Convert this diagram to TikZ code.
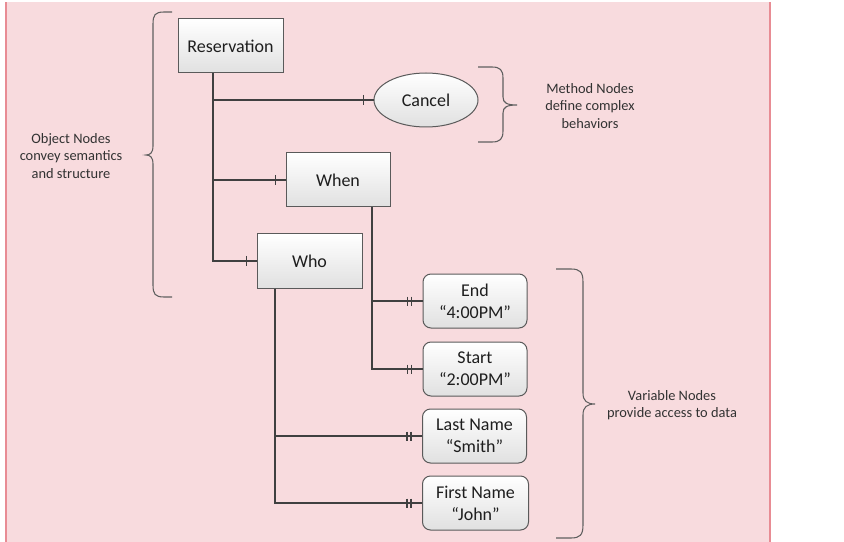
\documentclass[tikz,border=0pt]{standalone}
\usepackage{fontspec}
\setmainfont{Carlito}
\usetikzlibrary{shapes.geometric}
\definecolor{bgpink}{RGB}{248,219,222}
\definecolor{edgepink}{RGB}{232,140,148}
\definecolor{linegray}{RGB}{64,64,64}
\definecolor{boxedge}{RGB}{90,90,90}
\definecolor{bracegray}{RGB}{95,95,95}
\definecolor{textdark}{RGB}{30,30,30}
\definecolor{notetext}{RGB}{50,50,50}
\tikzset{
  objbox/.style={draw=boxedge, line width=0.75pt, top color=white, bottom color=black!12,
    minimum width=78pt, minimum height=40.5pt, inner sep=0pt, font=\fontsize{13.5}{16.5}\selectfont,
    text=textdark, align=center},
  varbox/.style={objbox, rounded corners=6pt},
  methodnode/.style={objbox, ellipse, minimum width=78pt, minimum height=40.5pt},
  conn/.style={draw=linegray, line width=1.5pt},
  tick/.style={draw=linegray, line width=1.1pt},
  bracepath/.style={draw=bracegray, line width=0.8pt},
  note/.style={font=\fontsize{10.8}{13.2}\selectfont, text=notetext, align=center}
}
\begin{document}
\begin{tikzpicture}[x=0.75pt,y=-0.75pt]
\useasboundingbox (0,0) rectangle (844,542);
% page background
\fill[bgpink] (6,2) rectangle (770,546);
\draw[edgepink, line width=1.5pt] (6,546) -- (6,2);
\draw[edgepink, line width=1.5pt] (770,546) -- (770,2);

% nodes
\node[objbox, minimum width=78.75pt] (res) at (230.5,46) {Reservation};
\node[methodnode] (cancel) at (426,100) {Cancel};
\node[objbox] (when) at (338,180) {When};
\node[objbox, minimum width=78.75pt] (who) at (309.5,261) {Who};
\node[varbox] (end) at (475,301) {End\\“4:00PM”};
\node[varbox] (start) at (475,369) {Start\\“2:00PM”};
\node[varbox] (last) at (474.5,436) {Last Name\\“Smith”};
\node[varbox, minimum width=79.5pt] (first) at (475.5,503) {First Name\\“John”};

% connectors
\draw[conn] ([xshift=-13.1pt]res.south) |- (cancel.west);
\draw[conn] ([xshift=-13.1pt]res.south) |- (when.west);
\draw[conn] ([xshift=-13.1pt]res.south) |- (who.west);
\draw[conn] ([xshift=25.5pt]when.south) |- (end.west);
\draw[conn] ([xshift=25.5pt]when.south) |- (start.west);
\draw[conn] ([xshift=-26pt]who.south) |- (last.west);
\draw[conn] ([xshift=-26pt]who.south) |- (first.west);

% single bars: object and method links
\foreach \n in {cancel,when,who}
  \draw[tick] ([shift={(-10,-5)}]\n.west) -- ++(0,10);
% double bars: variable links
\foreach \n in {end,start,last,first} {
  \draw[tick] ([shift={(-11,-4.5)}]\n.west) -- ++(0,9);
  \draw[tick] ([shift={(-15,-4.5)}]\n.west) -- ++(0,9);
}

% left brace around the object nodes
\draw[bracepath] (172,12) -- (164,12) .. controls (155,12) and (153,15) .. (153,24)
  -- (153,146) .. controls (153,153) and (150,155) .. (146,155)
  .. controls (150,155) and (153,157) .. (153,164)
  -- (153,285) .. controls (153,294) and (155,297) .. (164,297) -- (172,297);
\node[note] (objnote) at (71,156) {Object Nodes\\convey semantics\\and structure};

% right brace beside the method node
\draw[bracepath] (478,67) -- (492,67) .. controls (500,67) and (503,70) .. (503,78)
  -- (503,97) .. controls (503,103) and (507,105) .. (517,105)
  .. controls (507,105) and (503,107) .. (503,113)
  -- (503,131) .. controls (503,139) and (500,142) .. (492,142) -- (478,142);
\node[note] (methnote) at (590,106) {Method Nodes\\define complex\\behaviors};

% right brace beside the variable nodes
\draw[bracepath] (556,269) -- (571,269) .. controls (580,269) and (583,272) .. (583,282)
  -- (583,393) .. controls (583,401) and (587,404) .. (595,404)
  .. controls (587,404) and (583,407) .. (583,415)
  -- (583,525) .. controls (583,535) and (580,538) .. (571,538) -- (556,538);
\node[note] (varnote) at (672,405) {Variable Nodes\\provide access to data};
\end{tikzpicture}
\end{document}
